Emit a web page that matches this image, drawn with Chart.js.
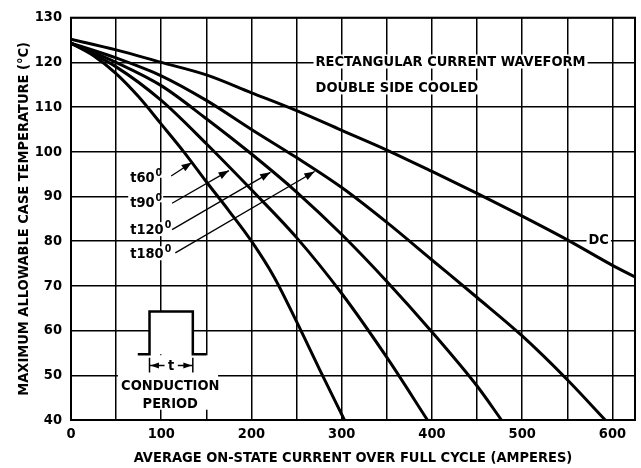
<!DOCTYPE html>
<html>
<head>
<meta charset="utf-8">
<script src="https://cdn.jsdelivr.net/npm/chart.js@4.4.1/dist/chart.umd.min.js"></script>
<style>
  html, body { margin: 0; padding: 0; background: #fff; }
</style>
</head>
<body>
<canvas id="chart" width="641" height="468"></canvas>
<script>
// Curve data (amperes vs. case temperature)
const currentDC = [0, 50, 100, 150, 200, 250, 300, 350, 400, 450, 500, 550, 600, 625];
const tempDC = [125.2, 122.8, 120, 117.2, 113.2, 109.2, 104.8, 100.4, 95.6, 90.7, 85.6, 80.3, 74.6, 72];

const current180 = [0, 50, 100, 150, 200, 250, 300, 350, 400, 450, 500, 550, 592];
const temp180 = [124.3, 121, 117, 111.5, 105, 98.7, 92, 84.2, 75.8, 67.4, 58.8, 49, 40];

const current120 = [0, 50, 100, 150, 200, 250, 300, 350, 400, 450, 477];
const temp120 = [124.3, 120, 114.8, 107.4, 99.5, 91, 81.5, 71, 59.7, 47.6, 40];

const current90 = [0, 50, 100, 150, 200, 250, 300, 350, 395];
const temp90 = [124.3, 119, 111.5, 101.8, 91.5, 80.8, 68.3, 54, 40];

const current60 = [0, 25, 50, 75, 100, 125, 150, 175, 200, 225, 250, 275, 303];
const temp60 = [124.3, 121.5, 117.5, 112.3, 106.2, 100, 93.3, 86.8, 80, 72, 62, 51.5, 40];

const xTicks = [0, 50, 100, 150, 200, 250, 300, 350, 400, 450, 500, 550, 600, 625];
const yTicks = [40, 50, 60, 70, 80, 90, 100, 110, 120, 130];

const FONT = "'Liberation Sans Narrow', 'DejaVu Sans Condensed', 'Liberation Sans', sans-serif";
const SIZE = 14.5;

function points(xs, ys) {
    return xs.map((v, i) => ({ x: v, y: ys[i] }));
}

function curve(xs, ys) {
    return {
        data: points(xs, ys),
        borderColor: '#000',
        borderWidth: 3,
        pointRadius: 0,
        cubicInterpolationMode: 'monotone',
        fill: false
    };
}

// Angle labels with their arrows (data coordinates)
const angleLabels = [
    { text: 't60', at: [65.6, 94.2], from: [111, 94.6], to: [134, 97.6] },
    { text: 't90', at: [65.6, 88.7], from: [112, 88.5], to: [175, 95.8] },
    { text: 't120', at: [65.6, 82.7], from: [112, 82.6], to: [221, 95.4] },
    { text: 't180', at: [65.6, 77.3], from: [115.6, 77.4], to: [270, 95.6] }
];

// Pulse sketch in the lower-left corner
const pulseX = [74, 87, 87, 135, 135, 150];
const pulseY = [54.7, 54.7, 64.3, 64.3, 54.7, 54.7];

function boxedText(ctx, text, x, y, align) {
    const w = ctx.measureText(text).width;
    const left = align === 'center' ? x - w / 2 : x;
    ctx.fillStyle = '#fff';
    ctx.fillRect(left - 2, y - 7, w + 4, 14);
    ctx.fillStyle = '#000';
    ctx.textAlign = 'left';
    ctx.fillText(text, left, y + 1);
    return left + w;
}

function arrowHead(ctx, x0, y0, x1, y1, size) {
    const a = Math.atan2(y1 - y0, x1 - x0);
    ctx.beginPath();
    ctx.moveTo(x1, y1);
    ctx.lineTo(x1 - size * Math.cos(a - 0.35), y1 - size * Math.sin(a - 0.35));
    ctx.lineTo(x1 - size * Math.cos(a + 0.35), y1 - size * Math.sin(a + 0.35));
    ctx.closePath();
    ctx.fill();
}

const annotate = {
    id: 'annotate',
    beforeDatasetsDraw(chart) {
        const { ctx, chartArea: area, scales: { x, y } } = chart;
        const px = v => x.getPixelForValue(v);
        const py = v => y.getPixelForValue(v);
        ctx.save();
        ctx.textBaseline = 'middle';

        // plot frame
        ctx.strokeStyle = '#000';
        ctx.lineWidth = 2;
        ctx.strokeRect(area.left, area.top, area.right - area.left, area.bottom - area.top);

        // header text
        ctx.font = 'bold ' + SIZE + 'px ' + FONT;
        boxedText(ctx, 'RECTANGULAR CURRENT WAVEFORM', px(271), py(120.2), 'left');
        boxedText(ctx, 'DOUBLE SIDE COOLED', px(271), py(114.4), 'left');
        boxedText(ctx, 'DC', px(573.5), py(80.4), 'left');

        // angle labels and arrows
        angleLabels.forEach(l => {
            ctx.font = 'bold ' + SIZE + 'px ' + FONT;
            const end = boxedText(ctx, l.text, px(l.at[0]), py(l.at[1]), 'left');
            ctx.font = 'bold 10.5px ' + FONT;
            const w = ctx.measureText('0').width;
            ctx.fillStyle = '#fff';
            ctx.fillRect(end, py(l.at[1]) - 8, w + 2, 8);
            ctx.fillStyle = '#000';
            ctx.fillText('0', end + 1, py(l.at[1]) - 4);
            const x0 = px(l.from[0]), y0 = py(l.from[1]);
            const x1 = px(l.to[0]), y1 = py(l.to[1]);
            ctx.strokeStyle = '#000';
            ctx.lineWidth = 1.3;
            ctx.beginPath();
            ctx.moveTo(x0, y0);
            ctx.lineTo(x1, y1);
            ctx.stroke();
            ctx.fillStyle = '#000';
            arrowHead(ctx, x0, y0, x1, y1, 11);
        });

        // inset: blank the grid behind it
        ctx.fillStyle = '#fff';
        ctx.fillRect(px(52), py(54.5), px(163) - px(52), py(42.3) - py(54.5));
        ctx.fillRect(px(87), py(64.3), px(135) - px(87), py(54.7) - py(64.3));

        ctx.strokeStyle = '#000';
        ctx.lineWidth = 2.5;
        ctx.lineJoin = 'miter';
        ctx.beginPath();
        pulseX.forEach((v, i) => {
            if (i === 0) ctx.moveTo(px(v), py(pulseY[i]));
            else ctx.lineTo(px(v), py(pulseY[i]));
        });
        ctx.stroke();

        // conduction period dimension
        const dl = px(87), dr = px(135), dy = py(52.2);
        ctx.lineWidth = 1.5;
        ctx.beginPath();
        ctx.moveTo(dl, py(53.9)); ctx.lineTo(dl, py(50.6));
        ctx.moveTo(dr, py(53.9)); ctx.lineTo(dr, py(50.6));
        ctx.moveTo(dl, dy); ctx.lineTo(dl + 15, dy);
        ctx.moveTo(dr, dy); ctx.lineTo(dr - 15, dy);
        ctx.stroke();
        ctx.fillStyle = '#000';
        arrowHead(ctx, dl + 10, dy, dl + 1, dy, 9);
        arrowHead(ctx, dr - 10, dy, dr - 1, dy, 9);
        ctx.font = 'bold ' + SIZE + 'px ' + FONT;
        ctx.textAlign = 'center';
        ctx.fillText('t', (dl + dr) / 2, dy + 1);
        ctx.fillText('CONDUCTION', px(110), py(47.8) + 1);
        ctx.fillText('PERIOD', px(110), py(43.7) + 1);

        ctx.restore();
    }
};

Chart.defaults.font.family = FONT;
Chart.defaults.font.weight = 'bold';
Chart.defaults.color = '#000';

new Chart(document.getElementById('chart'), {
    type: 'line',
    data: {
        datasets: [
            curve(currentDC, tempDC),
            curve(current180, temp180),
            curve(current120, temp120),
            curve(current90, temp90),
            curve(current60, temp60)
        ]
    },
    options: {
        responsive: false,
        animation: false,
        layout: { padding: { left: 0, right: 6, top: 15, bottom: 0 } },
        plugins: {
            legend: { display: false },
            tooltip: { enabled: false }
        },
        scales: {
            x: {
                type: 'linear',
                min: 0,
                max: 625,
                afterBuildTicks: scale => { scale.ticks = xTicks.map(v => ({ value: v })); },
                afterFit: scale => { scale.height = 48; },
                ticks: {
                    autoSkip: false,
                    maxRotation: 0,
                    padding: 6,
                    font: { size: SIZE, weight: 'bold' },
                    callback: v => (v % 100 === 0 ? v : '')
                },
                grid: { color: '#000', lineWidth: 1.5, drawTicks: false },
                border: { color: '#000', width: 2 },
                title: {
                    display: true,
                    text: 'AVERAGE ON-STATE CURRENT OVER FULL CYCLE (AMPERES)',
                    font: { size: SIZE, weight: 'bold' },
                    padding: { top: 0, bottom: 1 }
                }
            },
            y: {
                min: 40,
                max: 130,
                afterBuildTicks: scale => { scale.ticks = yTicks.map(v => ({ value: v })); },
                afterFit: scale => { scale.width = 71; },
                ticks: {
                    padding: 9,
                    font: { size: SIZE, weight: 'bold' }
                },
                grid: { color: '#000', lineWidth: 1.5, drawTicks: false },
                border: { color: '#000', width: 2 },
                title: {
                    display: true,
                    text: 'MAXIMUM ALLOWABLE CASE TEMPERATURE (\u00B0C)',
                    font: { size: SIZE, weight: 'bold' },
                    padding: { top: 16, bottom: 0 }
                }
            }
        }
    },
    plugins: [annotate]
});
</script>
</body>
</html>
